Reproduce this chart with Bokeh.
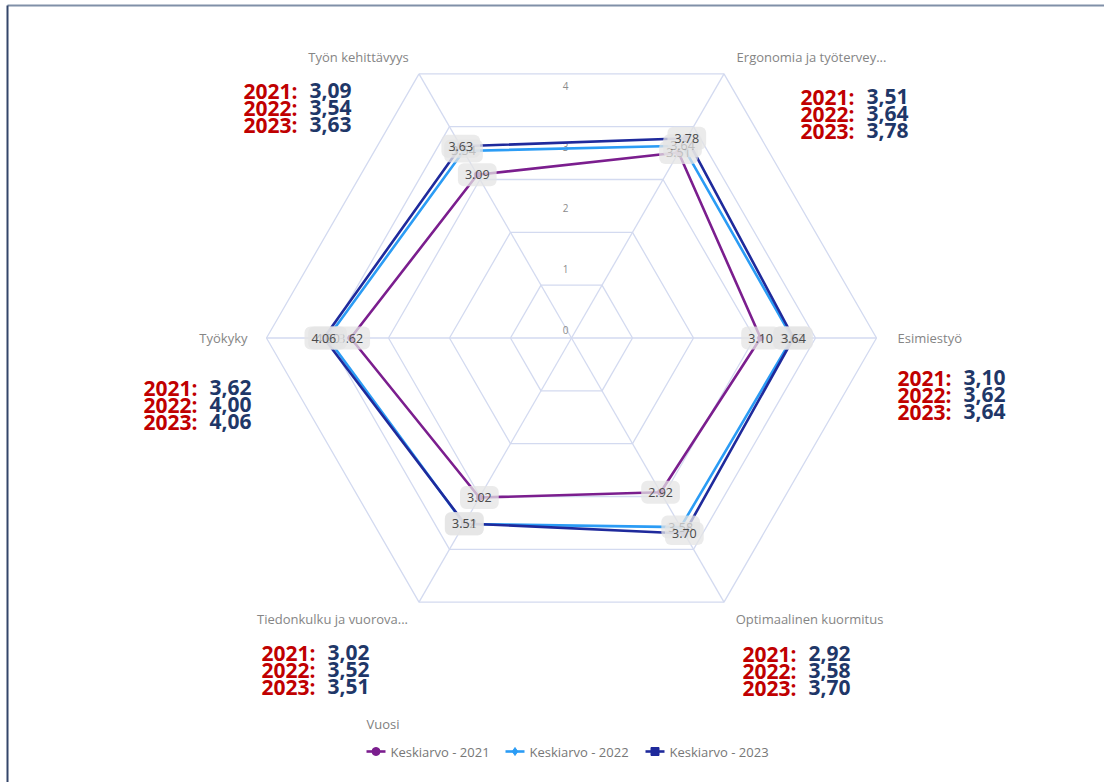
import math
from bokeh.plotting import figure
from bokeh.models import Range1d
from bokeh.core.properties import value
from bokeh.embed import file_html
from bokeh.resources import INLINE

# ---------------- data ----------------
categories = ["Työn kehittävyys", "Ergonomia ja työtervey...", "Esimiestyö",
              "Optimaalinen kuormitus", "Tiedonkulku ja vuorova...", "Työkyky"]
years = ["2021", "2022", "2023"]
values_2021 = [3.09, 3.51, 3.10, 2.92, 3.02, 3.62]
values_2022 = [3.54, 3.64, 3.62, 3.58, 3.52, 4.00]
values_2023 = [3.63, 3.78, 3.64, 3.70, 3.51, 4.06]
series_names = ["Keskiarvo - 2021", "Keskiarvo - 2022", "Keskiarvo - 2023"]
tick_values = [0, 1, 2, 3, 4]
ring_values = [1, 2, 3, 4, 5]
legend_title = "Vuosi"

# ---------------- style / layout ----------------
W, H = 1104, 782
OX, OY = 0, 0                # screen position of the canvas
CX, CY = 571, 337.5          # radar centre on screen
S = 61.0                     # pixels per unit
colors = ["#7B1E8E", "#2B9CF5", "#1F2A9C"]
markers = ["circle", "diamond", "square"]
grid_color = "#D3DAF0"
FONT = "Open Sans"
angles = [120, 60, 0, -60, -120, 180]   # degrees for each category

def sx(x):  # screen x -> data x
    return x - CX

def sy(y):  # screen y -> data y
    return CY - y

p = figure(width=W, height=H, output_backend="svg", toolbar_location=None,
           x_range=Range1d(OX - CX, OX + W - CX), y_range=Range1d(CY - (OY + H), CY - OY),
           min_border=0, outline_line_color=None)
p.axis.visible = False
p.grid.visible = False
p.background_fill_color = "white"
p.border_fill_color = "white"

def polar(v, a):
    r = v * S
    return r * math.cos(math.radians(a)), r * math.sin(math.radians(a))

# rings
for rv in ring_values:
    xs = [polar(rv, a)[0] for a in angles] + [polar(rv, angles[0])[0]]
    ys = [polar(rv, a)[1] for a in angles] + [polar(rv, angles[0])[1]]
    p.line(xs, ys, line_color=grid_color, line_width=1.3)
# spokes
for a in angles:
    ex, ey = polar(ring_values[-1], a)
    p.line([0, ex], [0, ey], line_color=grid_color, line_width=1.3)

# tick labels
p.text(x=[-6] * len(tick_values), y=[8 + S * t for t in tick_values],
       text=[str(t) for t in tick_values], text_font=value(FONT),
       text_font_size="10px", text_color="#8c8c8c",
       text_align="center", text_baseline="middle")

all_values = [values_2021, values_2022, values_2023]

# series lines + markers
for vals, col, mk in zip(all_values, colors, markers):
    pts = [polar(v, a) for v, a in zip(vals, angles)]
    xs = [q[0] for q in pts] + [pts[0][0]]
    ys = [q[1] for q in pts] + [pts[0][1]]
    p.line(xs, ys, line_color=col, line_width=2.6)
    p.scatter([q[0] for q in pts], [q[1] for q in pts], marker=mk, size=6,
              fill_color=col, line_color=col)

# data labels
for vals in all_values:
    pts = [polar(v, a) for v, a in zip(vals, angles)]
    p.text(x=[q[0] for q in pts], y=[q[1] for q in pts],
           text=[f"{v:.2f}" for v in vals], text_font=value(FONT),
           text_font_size="12.5px", text_color="#4a4a4a",
           text_align="center", text_baseline="middle",
           background_fill_color="#e4e4e4", background_fill_alpha=0.75,
           padding=7, border_radius=6)

# category labels (screen anchors)
cat_pos = [(358, 56, "center"), (811, 56, "center"), (897, 337, "left"),
           (809, 618, "center"), (332, 618, "center"), (247, 337, "right")]
for cat, (x, y, al) in zip(categories, cat_pos):
    p.text(x=[sx(x)], y=[sy(y)], text=[cat], text_font=value(FONT),
           text_font_size="13px", text_color="#858585",
           text_align=al, text_baseline="middle")

# annotation blocks (screen anchors: left x, first baseline)
block_pos = [(243, 90), (800, 96), (897, 377), (742, 653), (261, 652), (143, 387)]
LINE_STEP = 17
VAL_DX = 66
for i, (x0, b0) in enumerate(block_pos):
    for k, (yr, vals) in enumerate(zip(years, all_values)):
        yy = sy(b0 + k * LINE_STEP)
        p.text(x=[sx(x0)], y=[yy], text=[yr + ":"], text_font=value(FONT),
               text_font_size="21px", text_font_style="bold", text_color="#C00000",
               text_align="left", text_baseline="alphabetic")
        p.text(x=[sx(x0 + VAL_DX)], y=[yy], text=[f"{vals[i]:.2f}".replace(".", ",")],
               text_font=value(FONT), text_font_size="21px", text_font_style="bold",
               text_color="#1F3768", text_align="left", text_baseline="alphabetic")

# legend
p.text(x=[sx(366)], y=[sy(723)], text=[legend_title], text_font=value(FONT),
       text_font_size="13px", text_color="#808080", text_align="left",
       text_baseline="middle")
leg_x = [366, 505, 645]
LY = 751
for lx, name, col, mk in zip(leg_x, series_names, colors, markers):
    p.line([sx(lx), sx(lx + 19)], [sy(LY), sy(LY)], line_color=col, line_width=2.6)
    p.scatter([sx(lx + 9.5)], [sy(LY)], marker=mk, size=8, fill_color=col, line_color=col)
    p.text(x=[sx(lx + 24)], y=[sy(LY)], text=[name], text_font=value(FONT),
           text_font_size="13px", text_color="#777777", text_align="left",
           text_baseline="middle")

# frame lines (top and left)
x_lo, x_hi = p.x_range.start, p.x_range.end
y_lo, y_hi = p.y_range.start, p.y_range.end
p.line([sx(7), x_hi], [sy(5), sy(5)], line_color="#8090A8", line_width=2)
p.line([sx(7), sx(7)], [y_lo, sy(5)], line_color="#34466A", line_width=2)

open("out.html", "w").write(file_html(p, INLINE))
